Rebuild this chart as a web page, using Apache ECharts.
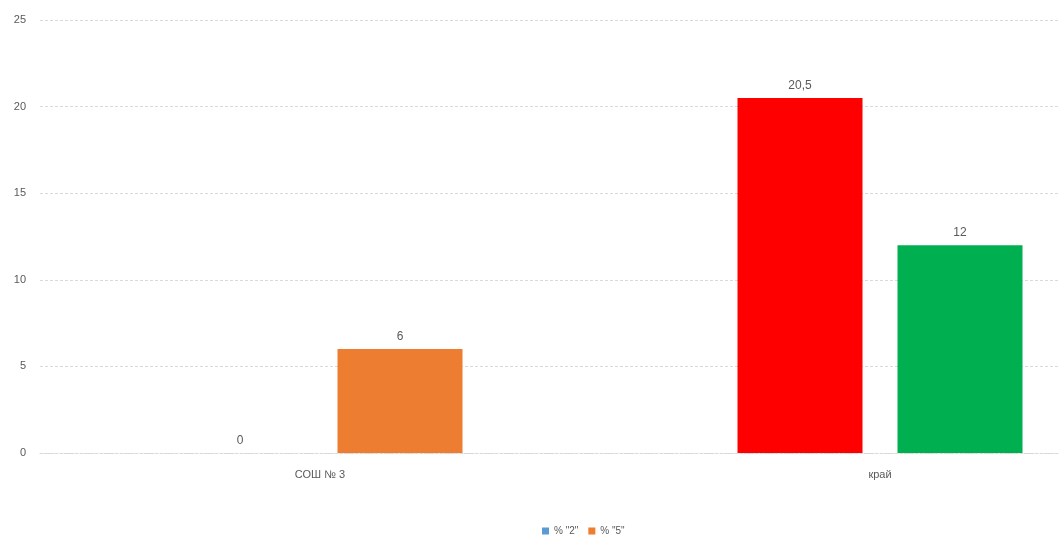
<!DOCTYPE html>
<html>
<head>
<meta charset="utf-8">
<script src="https://cdn.jsdelivr.net/npm/echarts@6/dist/echarts.min.js"></script>
<style>
html,body{margin:0;padding:0;background:#fff;overflow:hidden;}
/* the chart canvas is wider than the window; its right part is cut off */
#chart{width:1160px;height:537px;}
</style>
</head>
<body>
<div id="chart"></div>
<script>
// Categories and series values
const categories = ['СОШ № 3', 'край'];
const seriesNames = ['% "2"', '% "5"'];
const values2 = [0, 20.5];
const values5 = [6, 12];
const seriesColors = ['#5b9bd5', '#ed7d31'];
// The regional bars use their own colours
const regionColors = ['#ff0000', '#00b050'];
const yTicks = [0, 5, 10, 15, 20, 25];

const fmt = v => String(v).replace('.', ',');

function makeData(vals, idx) {
  return vals.map((v, i) => i === 1
    ? { value: v, itemStyle: { color: regionColors[idx] } }
    : v);
}

const chart = echarts.init(document.getElementById('chart'));
chart.setOption({
  animation: false,
  grid: { left: 40, right: 0, top: 20, height: 433 },
  legend: {
    left: 537, top: 521,
    itemWidth: 7, itemHeight: 7, itemGap: 10,
    icon: 'rect',
    textStyle: { color: '#595959', fontSize: 10, fontFamily: 'Liberation Sans' },
    data: seriesNames
  },
  xAxis: {
    type: 'category',
    data: categories,
    axisTick: { show: false },
    axisLine: { lineStyle: { color: '#d9d9d9', type: [2, 2] } },
    axisLabel: { color: '#595959', fontSize: 11, margin: 16, fontFamily: 'Liberation Sans' }
  },
  yAxis: {
    type: 'value',
    min: yTicks[0], max: yTicks[yTicks.length - 1], interval: 5,
    axisLine: { show: false },
    axisTick: { show: false },
    splitLine: { lineStyle: { color: '#d9d9d9', type: [3, 2] } },
    axisLabel: { color: '#595959', fontSize: 11, margin: 14, fontFamily: 'Liberation Sans' }
  },
  series: [
    {
      name: seriesNames[0], type: 'bar', data: makeData(values2, 0),
      itemStyle: { color: seriesColors[0] },
      barWidth: 125, barGap: '28%',
      label: { show: true, position: 'top', distance: 6, color: '#595959', fontSize: 12,
               fontFamily: 'Liberation Sans', formatter: p => fmt(p.value) }
    },
    {
      name: seriesNames[1], type: 'bar', data: makeData(values5, 1),
      itemStyle: { color: seriesColors[1] },
      barWidth: 125, barGap: '28%',
      label: { show: true, position: 'top', distance: 6, color: '#595959', fontSize: 12,
               fontFamily: 'Liberation Sans', formatter: p => fmt(p.value) }
    }
  ]
});
</script>
</body>
</html>
